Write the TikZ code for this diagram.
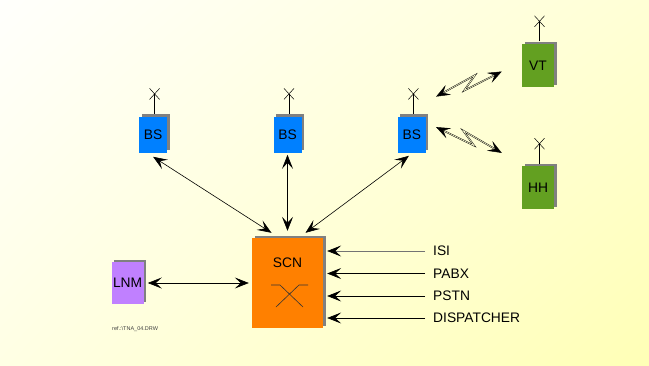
\documentclass[tikz,border=0pt]{standalone}
\usepackage{fontspec}
\setmainfont{Liberation Sans}
\usetikzlibrary{positioning, calc, arrows.meta, shadows, shadings}
\definecolor{bsblue}{RGB}{0,128,255}
\definecolor{mobgreen}{RGB}{99,160,33}
\definecolor{scnorange}{RGB}{255,128,0}
\definecolor{lnmviolet}{RGB}{192,128,255}
\definecolor{shadowgray}{RGB}{128,128,128}
\definecolor{bgtl}{RGB}{255,255,252}
\definecolor{bgtr}{RGB}{255,255,213}
\definecolor{bgbl}{RGB}{255,255,228}
\definecolor{bgbr}{RGB}{255,255,182}
\tikzstyle{Unit} = [
inner sep=0pt, font=\fontsize{13.8}{16}\selectfont,
drop shadow={shadow xshift=2.5pt, shadow yshift=2.5pt,
fill=shadowgray, opacity=1}]
\tikzstyle{Arrow} = [
line width=0.6pt,
{Stealth[length=14pt, width=11pt, inset=6pt]}-{Stealth[length=14pt, width=11pt, inset=6pt]}]
\tikzstyle{Feed} = [
line width=0.6pt,
-{Stealth[length=14pt, width=11pt, inset=6pt, color=black]}]
\tikzstyle{Radio} = [
line width=0.45pt, double=bgtr, double distance=0.6pt,
{Stealth[length=14pt, width=11pt, inset=6pt]}-{Stealth[length=14pt, width=11pt, inset=6pt]}]
\tikzstyle{Port} = [anchor=west, inner sep=2pt, font=\fontsize{13.8}{16}\selectfont]
% aerial on top of a unit
\newcommand{\aerial}[1]{%
  \draw[line width=0.7pt] ([xshift=1.5pt,yshift=2.5pt]#1.north) -- ++(0,-20) coordinate (#1tip);
  \draw[line width=0.5pt] ($(#1tip)+(-5,-5.5)$) -- ($(#1tip)+(5,5.5)$)
    ($(#1tip)+(-5,5.5)$) -- ($(#1tip)+(5,-5.5)$);}

\begin{document}
\begin{tikzpicture}[x=1pt, y=-1pt]
    \shade[upper left=bgtl, upper right=bgtr, lower left=bgbl, lower right=bgbr]
        (0,0) rectangle (649,365);
    \useasboundingbox (0,0) rectangle (649,365);

    \node [Unit, fill=scnorange, minimum width=71pt, minimum height=90pt] (scn) at (287.5,283) {};
    \node [font=\fontsize{13.8}{16}\selectfont] (scntext) at ([yshift=20pt]scn.center) {SCN};
    \node [Unit, fill=bsblue, minimum width=28pt, minimum height=36pt, above=85pt of scn] (bs2) {BS};
    \node [Unit, fill=bsblue, minimum width=28pt, minimum height=36pt, left=106pt of bs2] (bs1) {BS};
    \node [Unit, fill=bsblue, minimum width=28pt, minimum height=36pt, right=96pt of bs2] (bs3) {BS};
    \node [Unit, fill=lnmviolet, minimum width=32pt, minimum height=42pt, left=108pt of scn] (lnm) {LNM};
    \node [Unit, fill=mobgreen, minimum width=32pt, minimum height=43pt] (vt) at (538,65.5) {VT};
    \node [Unit, fill=mobgreen, minimum width=32pt, minimum height=43pt, below=79pt of vt] (hh) {HH};

    \node [Port] (isi) at (431,251) {ISI};
    \node [Port] (pabx) at (431,273.5) {PABX};
    \node [Port] (pstn) at (431,296) {PSTN};
    \node [Port] (disp) at (431,318) {DISPATCHER};
    \node [anchor=west, inner sep=0pt, text=black!75, font=\fontsize{5.5}{6}\selectfont] (ref) at (112,329) {ref.:\textbackslash TNA\_04.DRW};

    \aerial{bs1}
    \aerial{bs2}
    \aerial{bs3}
    \aerial{vt}
    \aerial{hh}

    % switch symbol
    \draw[line width=0.6pt, black!80] ($(scn.center)+(-16.5,2)$) -- ++(9,0) -- ++(23,22)
        ($(scn.center)+(20.5,2)$) -- ++(-9,0) -- ++(-23,22);

    \draw[Arrow] ([yshift=-4pt]bs1.south) -- ([xshift=-16pt,yshift=5pt]scn.north);
    \draw[Arrow] ([yshift=-2pt]bs2.south) -- ([yshift=7pt]scn.north);
    \draw[Arrow] ([xshift=-3pt,yshift=-3pt]bs3.south) -- ([xshift=18pt,yshift=5pt]scn.north);
    \draw[Arrow] ([xshift=4pt]lnm.east) -- ([xshift=-3pt]lnm.east -| scn.west);

    \draw[Radio] ($(bs3.east)+(10,-38)$) -- ++(39,-21.5) -- ++(-11,15.5) -- ($(vt.west)+(-20,6)$);
    \draw[Radio] ($(bs3.east)+(10,-7.5)$) -- ++(38,18.5) -- ++(-11,-15) -- ($(hh.west)+(-20,-35)$);

    \draw[Feed, black!55] ([xshift=-6pt]isi.west) -- ([xshift=4pt]isi.west -| scn.east);
    \draw[Feed] ([xshift=-6pt]pabx.west) -- ([xshift=4pt]pabx.west -| scn.east);
    \draw[Feed] ([xshift=-6pt]pstn.west) -- ([xshift=4pt]pstn.west -| scn.east);
    \draw[Feed] ([xshift=-6pt]disp.west) -- ([xshift=4pt]disp.west -| scn.east);
\end{tikzpicture}
\end{document}
